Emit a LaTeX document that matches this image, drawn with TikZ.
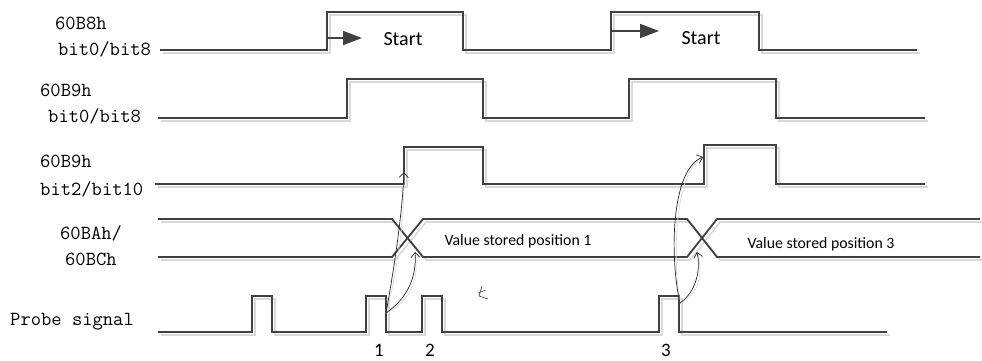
\documentclass[tikz,border=0pt]{standalone}
\usepackage{fontspec}
\setsansfont{Carlito}
\usetikzlibrary{arrows.meta}
\definecolor{wave}{HTML}{404040}
\definecolor{shade}{HTML}{D9D9D9}
\tikzset{
  wavel/.style={draw=wave,line width=1.8pt,line join=miter},
  shadel/.style={draw=shade,line width=1.6pt,shift={(3,3)}},
  sig/.style={inner sep=0pt,anchor=base west,font=\fontsize{20}{24}\selectfont\ttfamily},
  lbl/.style={inner sep=0pt,font=\fontsize{15.8}{18}\selectfont\sffamily},
  num/.style={inner sep=0pt,anchor=base,font=\fontsize{19}{22}\selectfont\sffamily},
  startarrow/.style={draw=wave,line width=1.8pt,-{Triangle[length=19pt,width=14pt]}},
  curvearrow/.style={draw=black!85,line width=0.7pt,-{Straight Barb[length=5pt,width=9pt]}},
  curveshade/.style={draw=shade,line width=0.7pt,shift={(3,3)}},
}
\begin{document}
\begin{tikzpicture}[x=1pt,y=-1pt]
\useasboundingbox (0,0) rectangle (982,360);
\foreach \s in {shadel,wavel}{
  \path[\s] (160,50)--(327,50)--(327,12)--(463,12)--(463,50)--(611,50)--(611,12)--(759,12)--(759,50)--(917,50);
  \path[\s] (158,118)--(347,118)--(347,79)--(483,79)--(483,118)--(629,118)--(629,79)--(776,79)--(776,118)--(925,118);
  \path[\s] (155,184)--(404,184)--(404,147)--(483,147)--(483,184)--(704,184)--(704,145)--(776,145)--(776,184)--(925,184);
  \path[\s] (158,219)--(392,219)--(423,257)--(687,257)--(717,219)--(980,219);
  \path[\s] (158,257)--(392,257)--(423,219)--(687,219)--(717,257)--(980,257);
  \path[\s] (158,332)--(252,332)--(252,296)--(272,296)--(272,332)--(366,332)--(366,296)--(386,296)--(386,332)--(422,332)--(422,296)--(442,296)--(442,332)--(659,332)--(659,296)--(679,296)--(679,332)--(887,332);
}
% start arrows
\coordinate (s1a) at (327,38); \coordinate (s1b) at (362,38);
\coordinate (s2a) at (611,31); \coordinate (s2b) at (659,31);
\draw[startarrow] (s1a) -- (s1b);
\draw[startarrow] (s2a) -- (s2b);
\node[lbl,font=\fontsize{20}{24}\selectfont\sffamily] (st1) at (403,39) {Start};
\node[lbl,font=\fontsize{20}{24}\selectfont\sffamily] (st2) at (701,38) {Start};
% signal labels
\node[sig] (l1a) at (55,29) {60B8h};
\node[sig] (l1b) at (58,55) {bit0/bit8};
\node[sig] (l2a) at (40,96) {60B9h};
\node[sig] (l2b) at (48,122) {bit0/bit8};
\node[sig] (l3a) at (40,167) {60B9h};
\node[sig] (l3b) at (40,195) {bit2/bit10};
\node[sig] (l4a) at (60,239) {60BAh/};
\node[sig] (l4b) at (65,265) {60BCh};
\node[sig] (l5) at (10,325) {Probe signal};
% bus texts
\node[lbl] (v1) at (518,241) {Value stored position 1};
\node[lbl] (v3) at (821,244) {Value stored position 3};
% numbers
\node[num] (n1) at (379,356) {1};
\node[num] (n2) at (430,356) {2};
\node[num] (n3) at (666,356) {3};
% curved arrows
\coordinate (p1) at (386,313);
\coordinate (e1) at (404,172);
\coordinate (x1) at (415,252);
\coordinate (p3) at (680,303);
\coordinate (e3) at (703,157);
\coordinate (x3) at (697,252);
\path[curveshade] (p1) .. controls (392,280) and (402,220) .. (e1);
\path[curveshade] (p1) .. controls (405,300) and (417,280) .. (x1);
\path[curveshade] (p3) .. controls (670,260) and (670,170) .. (e3);
\path[curveshade] (p3) .. controls (696,292) and (701,270) .. (x3);
\draw[curvearrow] (p1) .. controls (392,280) and (402,220) .. (e1);
\draw[curvearrow] (p1) .. controls (405,300) and (417,280) .. (x1);
\draw[curvearrow] (p3) .. controls (670,260) and (670,170) .. (e3);
\draw[curvearrow] (p3) .. controls (696,292) and (701,270) .. (x3);
% stray mark
\draw[black!70,line width=0.7pt] (482,286) -- (479,296) -- (488,299);
\draw[black!70,line width=0.6pt] (478,293) -- (486,290);
\end{tikzpicture}
\end{document}
